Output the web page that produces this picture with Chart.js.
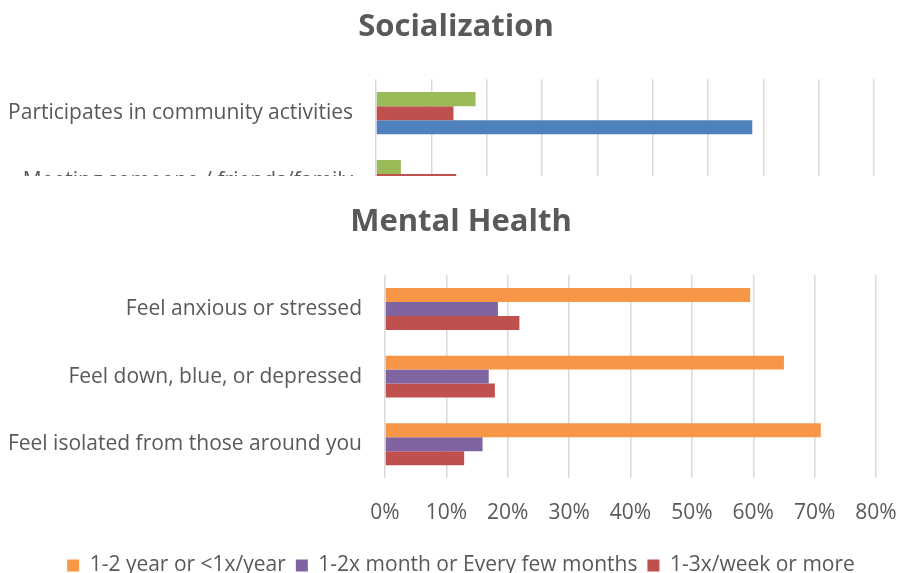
<!DOCTYPE html>
<html lang="en">
<head>
    <meta charset="UTF-8">
    <title>Socialization / Mental Health</title>
    <script src="https://cdn.jsdelivr.net/npm/chart.js"></script>
    <style>
        html, body { margin: 0; padding: 0; background: #fff; overflow: hidden; width: 897px; height: 573px; }
        #socialBox { position: absolute; left: 0; top: 0; width: 897px; height: 176px; overflow: hidden; }
        #mentalBox { position: absolute; left: 0; top: 180px; width: 897px; height: 406px; }
    </style>
</head>
<body>
    <!-- top chart is cut off by the one below it -->
    <div id="socialBox"><canvas id="socialChart" width="897" height="260"></canvas></div>
    <div id="mentalBox"><canvas id="mentalChart" width="897" height="406"></canvas></div>

    <script>
        // Socialization (only the first rows are visible)
        var socialCategories = ['Participates in community activities', 'Meeting someone / friends/family'];
        var socialSeries = ['Weekly or more', '1-3x/week or more', 'Never'];
        var socialGreen = [18, 4.5];
        var socialRed = [14, 14.5];
        var socialBlue = [68, 55];
        var socialTicks = [0, 10, 20, 30, 40, 50, 60, 70, 80, 90];

        // Mental Health
        var mentalCategories = ['Feel anxious or stressed', 'Feel down, blue, or depressed', 'Feel isolated from those around you'];
        var mentalSeries = ['1-2 year or <1x/year', '1-2x month or Every few months', '1-3x/week or more'];
        var mentalYearly = [59.5, 65, 71];
        var mentalMonthly = [18.4, 16.9, 15.9];
        var mentalWeekly = [21.9, 17.9, 12.9];
        var mentalTicks = [0, 10, 20, 30, 40, 50, 60, 70, 80];

        var textColor = '#595959';
        var gridColor = '#d9d9d9';
        var font = "'Open Sans', sans-serif";

        Chart.defaults.font.family = font;
        Chart.defaults.color = textColor;

        // Excel centres title and legend over the whole frame, not the plot; nudge them right
        var centreShift = {
            id: 'centreShift',
            afterLayout: function (chart, args, opts) {
                [chart.titleBlock, chart.legend].forEach(function (box) {
                    if (box) { box.left += opts.dx; box.right += opts.dx; }
                });
            }
        };

        function barSet(label, data, color) {
            return {
                label: label,
                data: data,
                backgroundColor: color,
                borderWidth: 0,
                categoryPercentage: 0.62,
                barPercentage: 1
            };
        }

        function makeOptions(title, ticks, yWidth, padRight, shift, titlePad, xHeight, showLegend) {
            return {
                responsive: false,
                animation: false,
                indexAxis: 'y',
                layout: { padding: { left: 0, right: padRight, top: 0, bottom: 0 } },
                plugins: {
                    centreShift: { dx: shift },
                    title: {
                        display: true,
                        text: title,
                        color: textColor,
                        font: { size: 31, weight: 'bold' },
                        padding: titlePad
                    },
                    legend: {
                        display: showLegend,
                        position: 'bottom',
                        labels: {
                            color: textColor,
                            font: { size: 21 },
                            boxWidth: 12,
                            boxHeight: 12,
                            padding: 10
                        }
                    },
                    tooltip: { enabled: false }
                },
                scales: {
                    x: {
                        min: ticks[0],
                        max: ticks[ticks.length - 1],
                        afterBuildTicks: function (scale) {
                            scale.ticks = ticks.map(function (v) { return { value: v }; });
                        },
                        afterFit: function (scale) {
                            scale.height = xHeight;
                            scale.paddingLeft = 0;
                            scale.paddingRight = 0;
                        },
                        grid: { color: gridColor, lineWidth: 1.5, drawTicks: false },
                        border: { display: false },
                        ticks: {
                            padding: 22,
                            color: textColor,
                            font: { size: 21 },
                            callback: function (v) { return v + '%'; }
                        }
                    },
                    y: {
                        afterFit: function (scale) { scale.width = yWidth; },
                        grid: { display: false, drawTicks: false },
                        border: { display: false },
                        ticks: { padding: 23, color: textColor, font: { size: 21 } }
                    }
                }
            };
        }

        new Chart(document.getElementById('socialChart'), {
            type: 'bar',
            data: {
                labels: socialCategories,
                datasets: [
                    barSet(socialSeries[0], socialGreen, '#9bbb59'),
                    barSet(socialSeries[1], socialRed, '#c0504d'),
                    barSet(socialSeries[2], socialBlue, '#4f81bd')
                ]
            },
            options: makeOptions('Socialization', socialTicks, 376, 23, 19, { top: 9, bottom: 33 }, 45, false),
            plugins: [centreShift]
        });

        new Chart(document.getElementById('mentalChart'), {
            type: 'bar',
            data: {
                labels: mentalCategories,
                datasets: [
                    barSet(mentalSeries[0], mentalYearly, '#f79646'),
                    barSet(mentalSeries[1], mentalMonthly, '#8064a2'),
                    barSet(mentalSeries[2], mentalWeekly, '#c0504d')
                ]
            },
            options: makeOptions('Mental Health', mentalTicks, 385, 21, 23, { top: 24, bottom: 34 }, 67, true),
            plugins: [centreShift]
        });
    </script>
</body>
</html>
